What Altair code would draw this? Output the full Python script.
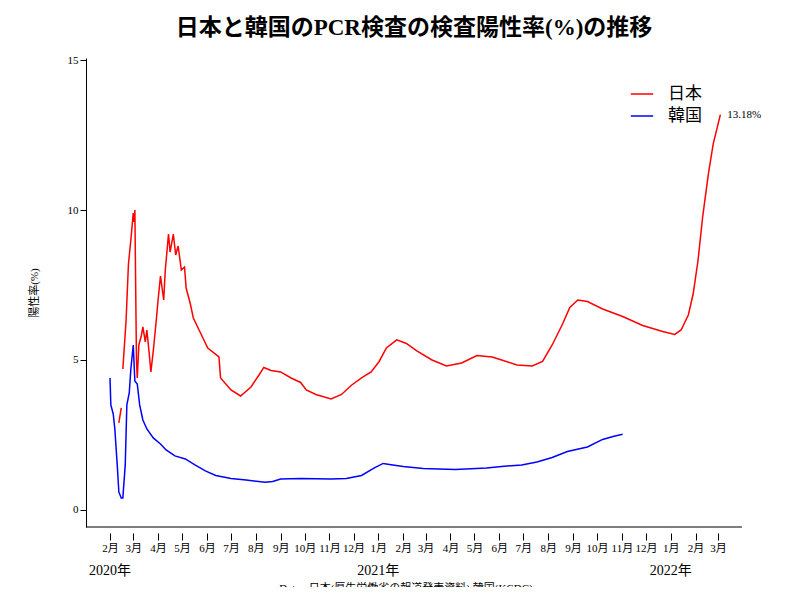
import pandas as pd
import altair as alt

FONT = "Liberation Serif, Noto Sans CJK JP"

jp_pre_dates = ["2020-02-12", "2020-02-15"]
jp_pre_values = [2.9, 3.4]

jp_dates = [
    "2020-02-17", "2020-02-21", "2020-02-24", "2020-02-27", "2020-03-01", "2020-03-02",
    "2020-03-03", "2020-03-05", "2020-03-06", "2020-03-08", "2020-03-11", "2020-03-13",
    "2020-03-16", "2020-03-18", "2020-03-21", "2020-03-23", "2020-03-26", "2020-03-30",
    "2020-04-01", "2020-04-04", "2020-04-08", "2020-04-10", "2020-04-14", "2020-04-16",
    "2020-04-20", "2020-04-23", "2020-04-26", "2020-04-30", "2020-05-04", "2020-05-06",
    "2020-05-11", "2020-05-15", "2020-05-24", "2020-06-02", "2020-06-16", "2020-06-18",
    "2020-07-01", "2020-07-13", "2020-07-26", "2020-08-05", "2020-08-11", "2020-08-20",
    "2020-09-01", "2020-09-14", "2020-09-26", "2020-10-03", "2020-10-15", "2020-11-03",
    "2020-11-16", "2020-11-28", "2020-12-11", "2020-12-23", "2021-01-02", "2021-01-11",
    "2021-01-24", "2021-02-05", "2021-02-18", "2021-03-09", "2021-03-27", "2021-04-15",
    "2021-05-04", "2021-05-23", "2021-06-04", "2021-06-23", "2021-07-12", "2021-07-25",
    "2021-08-06", "2021-08-19", "2021-08-28", "2021-09-07", "2021-09-19", "2021-10-08",
    "2021-11-02", "2021-11-27", "2021-12-22", "2022-01-06", "2022-01-14", "2022-01-23",
    "2022-01-29", "2022-02-04", "2022-02-10", "2022-02-17", "2022-02-23", "2022-03-04",
]
jp_values = [
    4.7, 6.3, 8.2, 9.0, 9.9, 9.6,
    10.0, 5.0, 4.4, 5.5, 5.8, 6.1,
    5.6, 6.0, 5.2, 4.6, 5.3, 6.4,
    7.0, 7.8, 7.0, 8.0, 9.2, 8.6,
    9.2, 8.5, 8.8, 8.0, 8.1, 7.4,
    6.9, 6.4, 5.9, 5.4, 5.1, 4.4,
    4.0, 3.8, 4.1, 4.5, 4.75, 4.65,
    4.6, 4.4, 4.25, 4.0, 3.85, 3.7,
    3.85, 4.15, 4.4, 4.6, 4.95, 5.4,
    5.67, 5.55, 5.3, 5.0, 4.8, 4.9,
    5.15, 5.1, 5.0, 4.83, 4.8, 4.95,
    5.5, 6.2, 6.75, 7.0, 6.95, 6.7,
    6.45, 6.15, 5.95, 5.85, 6.0, 6.5,
    7.2, 8.3, 9.8, 11.2, 12.2, 13.18,
]

kr_dates = [
    "2020-02-01", "2020-02-02", "2020-02-05", "2020-02-07", "2020-02-10", "2020-02-12",
    "2020-02-15", "2020-02-17", "2020-02-20", "2020-02-22", "2020-02-25", "2020-02-27",
    "2020-03-01", "2020-03-03", "2020-03-06", "2020-03-09", "2020-03-13", "2020-03-18",
    "2020-03-26", "2020-04-04", "2020-04-11", "2020-04-22", "2020-05-05", "2020-05-17",
    "2020-05-30", "2020-06-12", "2020-07-01", "2020-07-20", "2020-08-13", "2020-08-22",
    "2020-09-01", "2020-09-26", "2020-11-03", "2020-11-22", "2020-12-11", "2020-12-27",
    "2021-01-07", "2021-01-19", "2021-02-01", "2021-02-26", "2021-04-07", "2021-05-16",
    "2021-06-04", "2021-06-29", "2021-07-18", "2021-08-06", "2021-08-25", "2021-09-19",
    "2021-10-08", "2021-10-21", "2021-11-02",
]
kr_values = [
    4.4, 3.5, 3.2, 2.7, 1.5, 0.6,
    0.4, 0.4, 1.5, 3.5, 3.9, 4.7,
    5.5, 4.3, 4.2, 3.5, 3.0, 2.7,
    2.4, 2.2, 2.0, 1.8, 1.7, 1.5,
    1.3, 1.15, 1.05, 1.0, 0.92, 0.95,
    1.03, 1.05, 1.03, 1.05, 1.15, 1.4,
    1.55, 1.5, 1.45, 1.38, 1.35, 1.4,
    1.45, 1.5, 1.6, 1.75, 1.95, 2.1,
    2.35, 2.45, 2.52,
]

years = ["2020年", "2021年", "2022年"]
year_pos = ["2020-02-01", "2021-01-01", "2022-01-01"]

rows = []
for d, v in zip(jp_pre_dates, jp_pre_values):
    rows.append({"date": d, "value": v, "country": "日本", "seg": "jp0"})
for d, v in zip(jp_dates, jp_values):
    rows.append({"date": d, "value": v, "country": "日本", "seg": "jp1"})
for d, v in zip(kr_dates, kr_values):
    rows.append({"date": d, "value": v, "country": "韓国", "seg": "kr"})
df = pd.DataFrame(rows)

W, H = 656, 469
xscale = alt.Scale(domain=["2020-01-02", "2022-03-31"])
yscale = alt.Scale(domain=[-0.57, 15.07], nice=False)

lines = alt.Chart(df).mark_line(strokeWidth=1.5).encode(
    x=alt.X("date:T", scale=xscale, title=None,
            axis=alt.Axis(tickCount={"interval": "month", "step": 1}, labelExpr="(month(datum.value)+1) + '月'",
                          domain=False, offset=6, grid=False, tickSize=7, tickColor="black",
                          labelColor="black", labelFont=FONT, labelFontSize=11)),
    y=alt.Y("value:Q", scale=yscale, title="陽性率(%)",
            axis=alt.Axis(values=[0, 5, 10, 15], grid=False, tickSize=6, domainColor="black",
                          tickColor="black", labelColor="black", labelFont=FONT, labelFontSize=11,
                          titleFont=FONT, titleFontSize=11, titleFontWeight="normal", titlePadding=28)),
    color=alt.Color("country:N", scale=alt.Scale(domain=["日本", "韓国"], range=["#ff0000", "#0000ff"]),
                    legend=alt.Legend(title=None, orient="none", legendX=544, legendY=24,
                                      symbolType="stroke", symbolSize=500, symbolStrokeWidth=1.5,
                                      labelFont=FONT, labelFontSize=17, labelColor="black",
                                      labelOffset=14)),
    detail="seg:N",
)

last = pd.DataFrame({"date": [jp_dates[-1]], "value": [jp_values[-1]], "label": ["13.18%"]})
end_label = alt.Chart(last).mark_text(align="left", dx=7, font=FONT, fontSize=11, color="black").encode(
    x=alt.X("date:T", scale=xscale), y=alt.Y("value:Q", scale=yscale), text="label:N")

year_df = pd.DataFrame({"date": year_pos, "label": years})
year_text = alt.Chart(year_df).mark_text(font=FONT, fontSize=14, color="black").encode(
    x=alt.X("date:T", scale=xscale), y=alt.value(H + 44), text="label:N")

caption = alt.Chart(pd.DataFrame({"t": ["Data : 日本(厚生労働省の報道発表資料) 韓国(KCDC)"]})).mark_text(
    font=FONT, fontSize=11, color="black", baseline="middle").encode(
    x=alt.value(W / 2 - 8), y=alt.value(H + 62), text="t:N")

bottom = alt.Chart(pd.DataFrame({"a": [0]})).mark_rule(color="black").encode(
    x=alt.value(0), x2=alt.value(W), y=alt.value(H))

chart = alt.layer(lines, end_label, year_text, caption, bottom).properties(
    width=W, height=H,
    title=alt.TitleParams("日本と韓国のPCR検査の検査陽性率(%)の推移", font=FONT, fontSize=23,
                          fontWeight="bold", color="black", anchor="middle", offset=14),
    autosize=alt.AutoSizeParams(type="none"),
    padding={"left": 78, "top": 50, "right": 50, "bottom": 60},
).configure_view(stroke=None)

chart.save("out.html", embed_options={"renderer": "svg", "actions": False})
